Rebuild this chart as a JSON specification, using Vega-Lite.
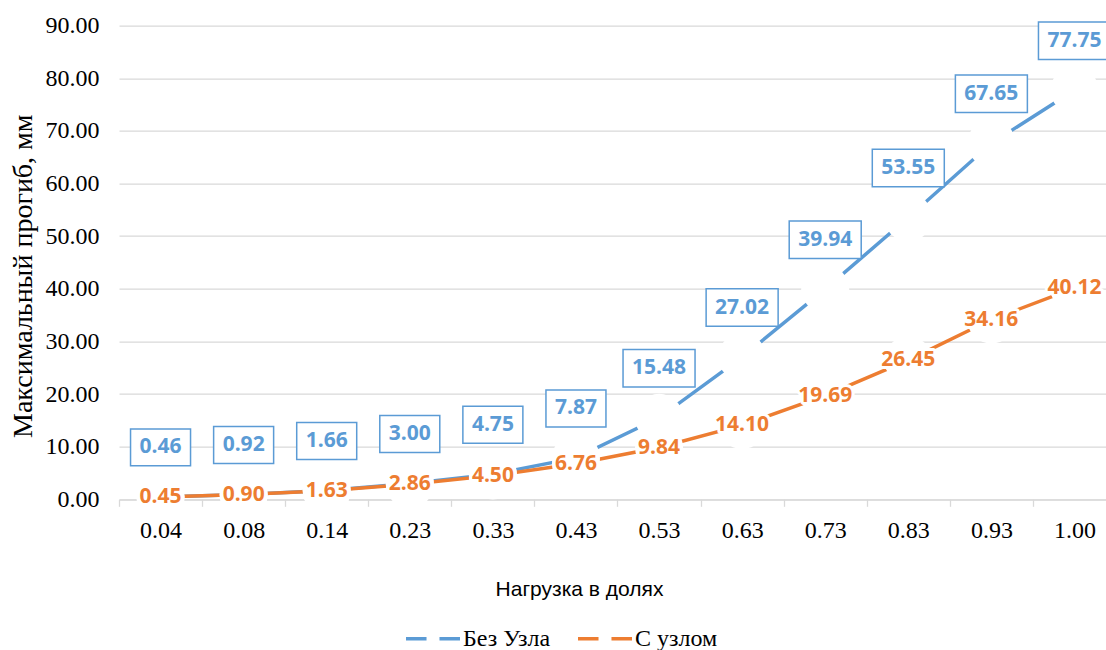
{
  "$schema": "https://vega.github.io/schema/vega-lite/v6.json",
  "width": 997,
  "height": 473.6,
  "autosize": {"type": "none"},
  "padding": {"left": 119, "top": 25.7, "right": -10, "bottom": 150.7},
  "background": "white",
  "config": {"view": {"stroke": null}},
  "data": {
    "values": [
      {"load": "0.04", "series": "Без Узла", "value": 0.46},
      {"load": "0.08", "series": "Без Узла", "value": 0.92},
      {"load": "0.14", "series": "Без Узла", "value": 1.66},
      {"load": "0.23", "series": "Без Узла", "value": 3.00},
      {"load": "0.33", "series": "Без Узла", "value": 4.75},
      {"load": "0.43", "series": "Без Узла", "value": 7.87},
      {"load": "0.53", "series": "Без Узла", "value": 15.48},
      {"load": "0.63", "series": "Без Узла", "value": 27.02},
      {"load": "0.73", "series": "Без Узла", "value": 39.94},
      {"load": "0.83", "series": "Без Узла", "value": 53.55},
      {"load": "0.93", "series": "Без Узла", "value": 67.65},
      {"load": "1.00", "series": "Без Узла", "value": 77.75},
      {"load": "0.04", "series": "С узлом", "value": 0.45},
      {"load": "0.08", "series": "С узлом", "value": 0.90},
      {"load": "0.14", "series": "С узлом", "value": 1.63},
      {"load": "0.23", "series": "С узлом", "value": 2.86},
      {"load": "0.33", "series": "С узлом", "value": 4.50},
      {"load": "0.43", "series": "С узлом", "value": 6.76},
      {"load": "0.53", "series": "С узлом", "value": 9.84},
      {"load": "0.63", "series": "С узлом", "value": 14.10},
      {"load": "0.73", "series": "С узлом", "value": 19.69},
      {"load": "0.83", "series": "С узлом", "value": 26.45},
      {"load": "0.93", "series": "С узлом", "value": 34.16},
      {"load": "1.00", "series": "С узлом", "value": 40.12}
    ]
  },
  "encoding": {
    "x": {
      "field": "load",
      "type": "ordinal",
      "sort": null,
      "scale": {"type": "band", "paddingInner": 0, "paddingOuter": 0},
      "axis": {
        "title": "Нагрузка в долях",
        "labelAngle": 0,
        "labelFont": "Liberation Serif",
        "labelFontSize": 24,
        "labelColor": "#000000",
        "labelPadding": 12,
        "domainColor": "#d9d9d9",
        "domainWidth": 1.3,
        "tickColor": "#d9d9d9",
        "tickWidth": 1.3,
        "tickSize": 7,
        "tickBand": "extent",
        "grid": false,
        "titleFont": "Liberation Sans",
        "titleFontSize": 21,
        "titleFontWeight": "normal",
        "titleColor": "#000000",
        "titleX": 460,
        "titleY": 90,
        "titleAlign": "center",
        "titleBaseline": "middle"
      }
    },
    "y": {
      "field": "value",
      "type": "quantitative",
      "scale": {"domain": [0, 90], "nice": false},
      "axis": {
        "title": "Максимальный прогиб, мм",
        "values": [0, 10, 20, 30, 40, 50, 60, 70, 80, 90],
        "format": ".2f",
        "labelFont": "Liberation Serif",
        "labelFontSize": 24,
        "labelColor": "#000000",
        "labelPadding": 20,
        "domain": false,
        "ticks": false,
        "tickSize": 0,
        "gridColor": "#d9d9d9",
        "gridWidth": 1.3,
        "titleFont": "Liberation Serif",
        "titleFontSize": 28,
        "titleFontWeight": "normal",
        "titleColor": "#000000",
        "titleX": -96,
        "titleY": 250,
        "titleAlign": "center",
        "titleBaseline": "middle",
        "titleAngle": -90
      }
    }
  },
  "layer": [
    {
      "mark": {"type": "line", "strokeWidth": 3.5},
      "encoding": {
        "color": {
          "field": "series",
          "type": "nominal",
          "scale": {"domain": ["Без Узла", "С узлом"], "range": ["#5B9BD5", "#ED7D31"]},
          "legend": {
            "title": null,
            "orient": "none",
            "legendX": 285,
            "legendY": 584,
            "direction": "horizontal",
            "symbolType": "M -1 0 L -0.24 0 M 0.24 0 L 1 0",
            "symbolSize": 2916,
            "symbolStrokeWidth": 3.5,
            "labelFont": "Liberation Serif",
            "labelFontSize": 24,
            "labelColor": "#000000",
            "labelOffset": 1,
            "columnPadding": 20,
            "padding": 0
          }
        }
      }
    },
    {
      "mark": {"type": "point", "filled": true, "color": "white", "opacity": 1, "size": 2304}
    },
    {
      "transform": [{"filter": "datum.series === 'Без Узла'"}],
      "mark": {
        "type": "point",
        "filled": true,
        "fill": "white",
        "stroke": "#5B9BD5",
        "strokeWidth": 1.5,
        "opacity": 1,
        "size": 900,
        "yOffset": -49.5
      },
      "encoding": {
        "shape": {
          "condition": {"test": "datum.value >= 10", "value": "M -2.4 -1.25 L 2.4 -1.25 L 2.4 1.25 L -2.4 1.25 Z"},
          "value": "M -2 -1.233 L 2 -1.233 L 2 1.233 L -2 1.233 Z"
        }
      }
    },
    {
      "transform": [{"filter": "datum.series === 'Без Узла'"}],
      "mark": {
        "type": "text",
        "dy": -49.5,
        "font": "Open Sans",
        "fontWeight": "bold",
        "fontSize": 21,
        "color": "#5B9BD5",
        "baseline": "middle"
      },
      "encoding": {"text": {"field": "value", "type": "quantitative", "format": ".2f"}}
    },
    {
      "transform": [{"filter": "datum.series === 'С узлом'"}],
      "mark": {
        "type": "text",
        "font": "Open Sans",
        "fontWeight": "bold",
        "fontSize": 21,
        "fill": "white",
        "stroke": "white",
        "strokeWidth": 6,
        "strokeJoin": "round",
        "baseline": "middle"
      },
      "encoding": {"text": {"field": "value", "type": "quantitative", "format": ".2f"}}
    },
    {
      "transform": [{"filter": "datum.series === 'С узлом'"}],
      "mark": {
        "type": "text",
        "font": "Open Sans",
        "fontWeight": "bold",
        "fontSize": 21,
        "color": "#ED7D31",
        "baseline": "middle"
      },
      "encoding": {"text": {"field": "value", "type": "quantitative", "format": ".2f"}}
    }
  ]
}
